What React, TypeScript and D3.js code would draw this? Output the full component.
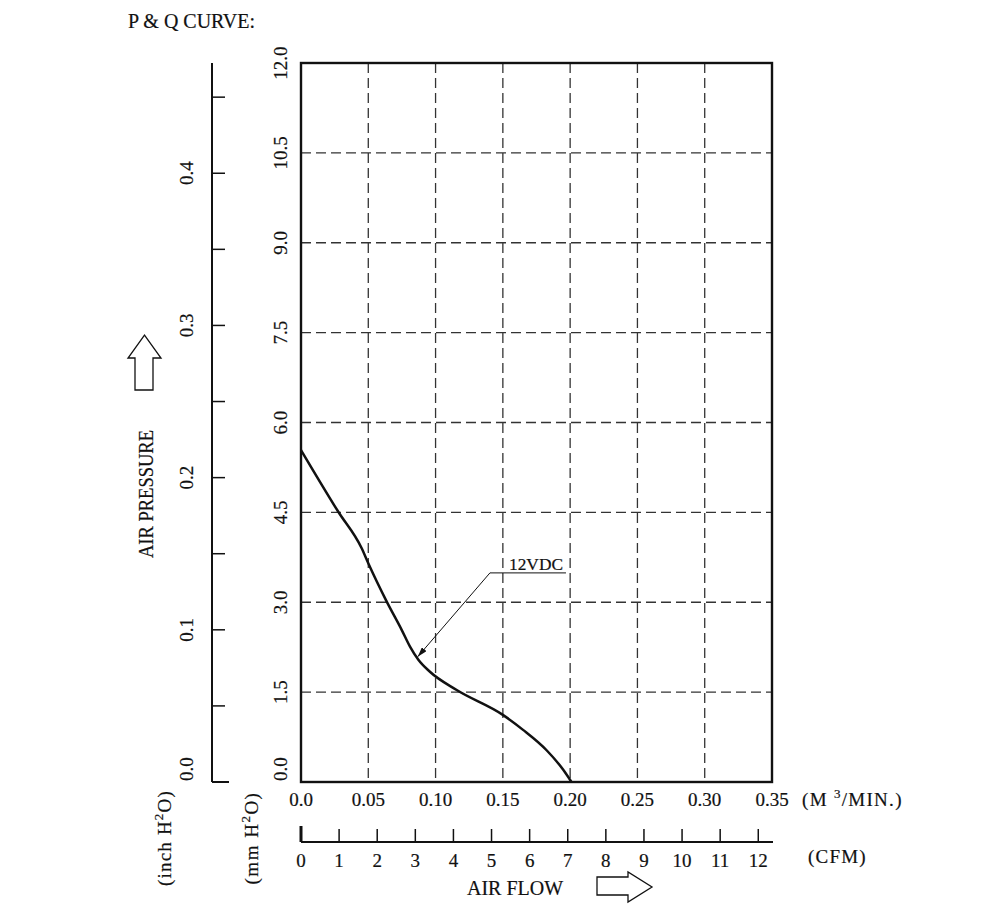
import * as d3 from "d3";

const W = 1000;
const H = 916;
const PLOT = { left: 301, right: 772, top: 63, bottom: 782 };
const FONT = "'Liberation Serif', 'Times New Roman', serif";

// air flow (M3/MIN) and air pressure (mm H2O)
const FLOW = [0, 0.0277, 0.0451, 0.05, 0.0637, 0.0748, 0.081, 0.0872, 0.0958, 0.1157, 0.15, 0.165, 0.1825, 0.195, 0.201];
const PRESSURE = [5.54, 4.51, 3.9, 3.65, 3.01, 2.54, 2.26, 2.04, 1.84, 1.535, 1.12, 0.87, 0.53, 0.2, 0];

const FLOW_TICKS = [0, 0.05, 0.1, 0.15, 0.2, 0.25, 0.3, 0.35];
const FLOW_LABELS = ["0.0", "0.05", "0.10", "0.15", "0.20", "0.25", "0.30", "0.35"];
const MM_TICKS = [0, 1.5, 3, 4.5, 6, 7.5, 9, 10.5, 12];
const INCH_TICKS = [0, 0.05, 0.1, 0.15, 0.2, 0.25, 0.3, 0.35, 0.4, 0.45];
const INCH_LABELS = [0, 0.1, 0.2, 0.3, 0.4];
const CFM_TICKS = [0, 1, 2, 3, 4, 5, 6, 7, 8, 9, 10, 11, 12];

const CFM_TO_M3 = 0.0283168;
const MM_PER_INCH = 25.4;

// leader for the "12VDC" label, in data units
const LEADER_TIP = { x: 0.0867, y: 2.09 };
const LEADER_ELBOW = { x: 0.1404, y: 3.49 };
const LEADER_END = { x: 0.1969, y: 3.49 };

// text looks a bit heavy in the original drawing
const TXT = { fill: "#111", stroke: "#111", strokeWidth: 0.2 };

export default function App() {
  const x = d3.scaleLinear().domain([0, 0.35]).range([PLOT.left, PLOT.right]);
  const y = d3.scaleLinear().domain([0, 12]).range([PLOT.bottom, PLOT.top]);
  const yInch = d3
    .scaleLinear()
    .domain([0, 12 / MM_PER_INCH])
    .range([PLOT.bottom, PLOT.top]);
  const xCfm = (c: number) => x(c * CFM_TO_M3);

  const pts = FLOW.map((f, i) => [f, PRESSURE[i]] as [number, number]);
  const line = d3
    .line<[number, number]>()
    .x((d) => x(d[0]))
    .y((d) => y(d[1]))
    .curve(d3.curveMonotoneX);

  const inchX = 212;
  const cfmY = 842;

  return (
    <svg
      width={W}
      height={H}
      style={{ position: "absolute", left: 0, top: 0, background: "#fff" }}
      fontFamily={FONT}
    >
      <defs>
        <marker
          id="tip"
          viewBox="0 0 10 6"
          refX="10"
          refY="3"
          markerWidth="10"
          markerHeight="6"
          markerUnits="userSpaceOnUse"
          orient="auto"
        >
          <path d="M0,0 L10,3 L0,6 Z" fill="#111" />
        </marker>
      </defs>

      <text x={128} y={28} fontSize={20} textLength={127} lengthAdjust="spacingAndGlyphs" {...TXT}>
        P &amp; Q CURVE:
      </text>

      {/* grid */}
      <g stroke="#333" strokeWidth={1.3} strokeDasharray="10,5">
        {FLOW_TICKS.slice(1, -1).map((t) => (
          <line key={"gx" + t} x1={x(t)} x2={x(t)} y1={y(12)} y2={y(0)} />
        ))}
        {MM_TICKS.slice(1, -1).map((t) => (
          <line key={"gy" + t} x1={x(0)} x2={x(0.35)} y1={y(t)} y2={y(t)} />
        ))}
      </g>

      {/* frame */}
      <rect
        x={PLOT.left}
        y={PLOT.top}
        width={PLOT.right - PLOT.left}
        height={PLOT.bottom - PLOT.top}
        fill="none"
        stroke="#111"
        strokeWidth={2.4}
      />

      {/* curve */}
      <path d={line(pts) ?? ""} fill="none" stroke="#111" strokeWidth={2.5} />

      {/* 12VDC label */}
      <polyline
        points={`${x(LEADER_END.x)},${y(LEADER_END.y)} ${x(LEADER_ELBOW.x)},${y(LEADER_ELBOW.y)} ${x(LEADER_TIP.x)},${y(LEADER_TIP.y)}`}
        fill="none"
        stroke="#111"
        strokeWidth={1}
        markerEnd="url(#tip)"
      />
      <text x={509} y={y(LEADER_ELBOW.y) - 3} fontSize={17} textLength={54} lengthAdjust="spacingAndGlyphs" {...TXT}>
        12VDC
      </text>

      {/* mm H2O labels */}
      {MM_TICKS.map((t) => (
        <text
          key={"mm" + t}
          transform={`translate(287,${t === 0 ? y(t) - 1 : y(t)}) rotate(-90)`}
          textAnchor={t === 0 ? "start" : "middle"}
          fontSize={19}
          {...TXT}
        >
          {t.toFixed(1)}
        </text>
      ))}

      {/* inch H2O axis */}
      <line x1={inchX} x2={inchX} y1={yInch(12 / MM_PER_INCH)} y2={yInch(0)} stroke="#111" strokeWidth={2} />
      {INCH_TICKS.map((t) => (
        <line
          key={"it" + t}
          x1={inchX}
          x2={inchX + (t === 0 ? 17 : 13)}
          y1={yInch(t)}
          y2={yInch(t)}
          stroke="#111"
          strokeWidth={t === 0 ? 2 : 1.5}
        />
      ))}
      {INCH_LABELS.map((t) => (
        <text
          key={"il" + t}
          transform={`translate(193,${t === 0 ? yInch(t) - 1 : yInch(t)}) rotate(-90)`}
          textAnchor={t === 0 ? "start" : "middle"}
          fontSize={19}
          {...TXT}
        >
          {t.toFixed(1)}
        </text>
      ))}

      {/* AIR PRESSURE title + arrow */}
      <text
        transform="translate(153,494) rotate(-90)"
        textAnchor="middle"
        fontSize={20}
        textLength={128}
        lengthAdjust="spacingAndGlyphs"
        {...TXT}
      >
        AIR  PRESSURE
      </text>
      <polygon
        points="135,390 153,390 153,358 161,358 144.5,335 128,358 135,358"
        fill="#fff"
        stroke="#111"
        strokeWidth={1.3}
      />

      {/* unit labels */}
      <text transform="translate(171,838) rotate(-90)" textAnchor="middle" fontSize={19} letterSpacing={1.2} {...TXT}>
        (inch H<tspan dy={-8} fontSize={13}>2</tspan>
        <tspan dy={8}>O)</tspan>
      </text>
      <text transform="translate(258,838) rotate(-90)" textAnchor="middle" fontSize={19} letterSpacing={1.5} {...TXT}>
        (mm H<tspan dy={-8} fontSize={13}>2</tspan>
        <tspan dy={8}>O)</tspan>
      </text>

      {/* M3/MIN labels */}
      {FLOW_TICKS.map((t, i) => (
        <text key={"fl" + t} x={x(t)} y={806} textAnchor="middle" fontSize={19} {...TXT}>
          {FLOW_LABELS[i]}
        </text>
      ))}
      <text x={802} y={806} fontSize={19} letterSpacing={1.3} {...TXT}>
        (M <tspan dy={-8} fontSize={13}>3</tspan>
        <tspan dy={8}>/MIN.)</tspan>
      </text>

      {/* CFM axis */}
      <line x1={xCfm(0)} x2={x(0.35) + 1} y1={cfmY} y2={cfmY} stroke="#111" strokeWidth={2} />
      {CFM_TICKS.map((t) => (
        <line
          key={"ct" + t}
          x1={xCfm(t)}
          x2={xCfm(t)}
          y1={t === 0 ? cfmY - 16 : cfmY - 13}
          y2={cfmY}
          stroke="#111"
          strokeWidth={t === 0 ? 3 : 1.5}
        />
      ))}
      {CFM_TICKS.map((t) => (
        <text key={"cl" + t} x={xCfm(t)} y={867} textAnchor="middle" fontSize={19} {...TXT}>
          {t}
        </text>
      ))}
      <text x={808} y={863} fontSize={19} letterSpacing={1.2} {...TXT}>
        (CFM)
      </text>

      {/* AIR FLOW title + arrow */}
      <text x={467} y={895} fontSize={20} textLength={96} lengthAdjust="spacingAndGlyphs" {...TXT}>
        AIR  FLOW
      </text>
      <polygon
        points="597,877 628,877 628,872 652,887 628,902 628,895 597,895"
        fill="#fff"
        stroke="#111"
        strokeWidth={1.3}
      />
    </svg>
  );
}
